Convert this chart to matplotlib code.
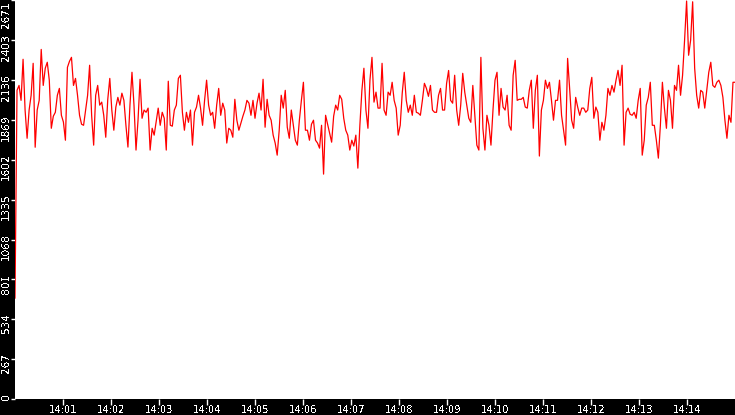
import numpy as np
import matplotlib
matplotlib.use("Agg")
import matplotlib.pyplot as plt
from matplotlib.transforms import offset_copy

# values, one every ~2.5 s from 14:00 to 14:15
load = [676,
        2067, 2100, 2000, 2275, 1935, 1746, 1935, 2034, 2248, 1686,
        1935, 2000, 2341, 2100, 2215, 2255, 2135, 1813, 1894, 1920,
        2034, 2080, 1900, 1855, 1733, 2221, 2261, 2288, 2100, 2147,
        2034, 1900, 1840, 1833, 1935, 2034, 2235, 1900, 1700, 2034,
        2100, 1968, 1988, 1900, 1753, 2007, 2147, 1935, 1800, 1955,
        2020,
        1968, 2048, 2000, 1833, 1687, 1968, 2188, 1968, 1667, 1867,
        2141, 1880, 1935, 1920, 1948, 1667, 1813, 1767, 1860, 1948,
        1833, 1920, 1880, 1667, 2128, 1833, 1827, 1935, 1968, 2147,
        2168, 1920, 1800, 1920, 1853, 1935, 1700, 1920, 1955, 2034,
        1948, 1833, 2000, 2135, 1968, 1900, 1920, 1813, 1968, 2080,
        1900,
        1981, 1935, 1714, 1813, 1800, 1753, 2007, 1867, 1800, 1847,
        1894, 1935, 2000, 1981, 1900, 2000, 1880, 1981, 2048, 1935,
        2141, 1820, 2007, 1900, 1867, 1767, 1714, 1633, 1800, 2034,
        1948, 2067, 1820, 1746, 1935, 1833, 1733, 1700, 1867, 2000,
        2121, 1800, 1800, 1733, 1840, 1867, 1733, 1714, 1680, 1833,
        1506,
        1900, 1840, 1780, 1720, 1894, 1968, 1935, 2034, 2007, 1880,
        1800, 1767, 1667, 1733, 1694, 1767, 1546, 1833, 2067, 2215,
        1935, 1813, 2135, 2288, 1988, 2055, 1948, 1948, 2248, 1935,
        1900, 2055, 2034, 2121, 2000, 1948, 1767, 1833, 2048, 2188,
        2000, 1920, 1968, 1900, 2034, 1920, 1914, 1900, 2000, 2114,
        2080,
        2027, 2100, 1935, 1920, 1920, 2034, 2080, 1935, 1935, 2114,
        2200, 2000, 1981, 2168, 1935, 1833, 1968, 2181, 2055, 1968,
        1880, 1853, 2100, 1900, 1700, 1667, 2288, 1813, 1667, 1900,
        1833, 1700, 1935, 2135, 2188, 1900, 2080, 1955, 1935, 2034,
        1833, 1800, 2168, 2268, 2000, 2007, 2007, 2020, 1955, 1948,
        2067,
        2135, 1813, 2067, 2168, 1627, 1935, 2000, 2135, 2080, 2121,
        2000, 1867, 2000, 2000, 2135, 1900, 1800, 1700, 2281, 2080,
        1867, 1813, 2020, 1955, 1900, 1948, 1948, 1920, 1935, 2080,
        2154, 1880, 1955, 1920, 1733, 1853, 1800, 1900, 2080, 2034,
        2100, 2055, 2135, 2201, 2100, 2235, 1700, 1920, 1948, 1907,
        1900,
        1920, 1880, 2000, 2080, 1633, 1733, 1968, 2020, 2121, 1833,
        1833, 1733, 1613, 1833, 2121, 1948, 1813, 2067, 2000, 1813,
        2100, 2067, 2235, 2034, 2168, 2403, 2665, 2302, 2403, 2660,
        2215, 2034, 1948, 2067, 2055, 1948, 2067, 2188, 2255, 2100,
        2087, 2121, 2135, 2100, 2020, 1867, 1746, 1900, 1853, 2121,
        2121]

ytick_labels = ['0', '267', '534', '801', '1068', '1335', '1602',
                '1869', '2136', '2403', '2671']
xtick_labels = ['14:01', '14:02', '14:03', '14:04', '14:05', '14:06', '14:07',
                '14:08', '14:09', '14:10', '14:11', '14:12', '14:13', '14:14']

day = '2024-01-01T'
t0 = np.datetime64(day + '14:00:00')
t1 = np.datetime64(day + '14:15:00')
secs = np.linspace(0, (t1 - t0) / np.timedelta64(1, 's'), len(load))
times = t0 + (secs * 1000).astype('timedelta64[ms]')
xticks = [np.datetime64(day + s + ':00') for s in xtick_labels]

plt.rcParams['font.family'] = 'DejaVu Sans'
plt.rcParams['text.antialiased'] = False

fig = plt.figure(figsize=(7.35, 4.15), dpi=100, facecolor='black')
ax = fig.add_axes([15 / 735, 16 / 415, 720 / 735, 399 / 415])
ax.set_facecolor('white')

ax.plot(times, load, color='red', lw=0.9)
ax.set_xlim(t0, t1)
ax.set_ylim(0, 2672)

for s in ax.spines.values():
    s.set_visible(False)

# y axis: white ticks on black strip, labels turned sideways
yvals = [float(v) for v in ytick_labels]
ax.set_yticks(yvals)
ax.tick_params(axis='y', direction='out', length=3, width=1, color='white',
               labelleft=False)
ytrans = offset_copy(ax.get_yaxis_transform(), fig=fig, x=-4, y=6, units='dots')
for v, lab in zip(yvals, ytick_labels):
    if v == yvals[-1]:
        ax.text(0, 1, lab, transform=offset_copy(ax.transAxes, fig=fig, x=-4, y=-1, units='dots'),
                rotation=90, ha='right', va='top', color='white', fontsize=7.6)
    else:
        ax.text(0, v, lab, transform=ytrans, rotation=90, ha='right', va='top',
                color='white', fontsize=7.6, clip_on=False)

ax.set_xticks(xticks)
ax.set_xticklabels(xtick_labels)
ax.tick_params(axis='x', direction='out', length=4, width=1, color='white',
               labelcolor='white', labelsize=7.2, pad=0.5)

fig.savefig('out.png', dpi=100, facecolor='black')
